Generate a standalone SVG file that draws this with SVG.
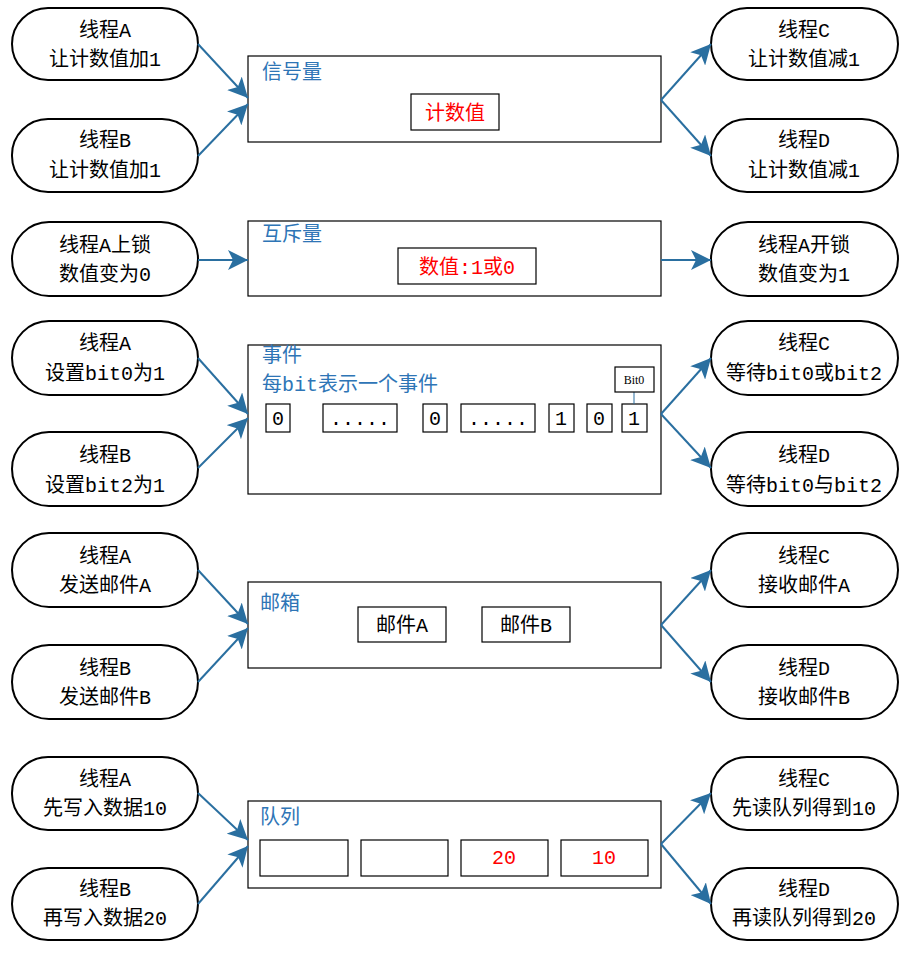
<svg xmlns="http://www.w3.org/2000/svg" width="910" height="973" viewBox="0 0 910 973">
<style>
.n{fill:#fff;stroke:#000;stroke-width:2}
.b{fill:#fff;stroke:#000;stroke-width:1.2}
.t{font-family:"Liberation Mono","Noto Sans CJK SC",monospace;font-size:20px;fill:#000;text-anchor:middle}
.bl{font-family:"Liberation Mono","Noto Sans CJK SC",monospace;font-size:20px;fill:#2e75b6}
.r{font-family:"Liberation Mono","Noto Sans CJK SC",monospace;font-size:20px;fill:#ff0000;text-anchor:middle}
.m{font-family:"Liberation Mono","Noto Sans CJK SC",monospace;font-size:20px;fill:#000;text-anchor:middle}
.c{stroke:#2a6fa0;stroke-width:2;fill:none;marker-end:url(#ah)}
</style>
<defs>
<marker id="ah" markerUnits="userSpaceOnUse" markerWidth="22" markerHeight="20" refX="20" refY="10" orient="auto">
<path d="M0,0 L20,10 L0,20 L5,10 Z" fill="#2a6fa0"/>
</marker>
</defs>
<rect width="910" height="973" fill="#fff"/>
<g id="lA1"><rect class="n" x="12" y="8" width="186" height="72" rx="36"/><text class="t" x="105" y="37">线程A</text><text class="t" x="105" y="66">让计数值加1</text></g>
<g id="lB1"><rect class="n" x="12" y="119" width="186" height="73" rx="36"/><text class="t" x="105" y="147">线程B</text><text class="t" x="105" y="177">让计数值加1</text></g>
<g id="rC1"><rect class="n" x="711" y="8" width="187" height="72" rx="36"/><text class="t" x="804" y="37">线程C</text><text class="t" x="804" y="66">让计数值减1</text></g>
<g id="rD1"><rect class="n" x="711" y="119" width="187" height="73" rx="36"/><text class="t" x="804" y="147">线程D</text><text class="t" x="804" y="177">让计数值减1</text></g>
<g id="sem"><rect class="b" x="248" y="56" width="413" height="86"/><text class="bl" x="262" y="79">信号量</text><rect class="b" x="411" y="94" width="88" height="36"/><text class="r" x="455" y="120">计数值</text></g>

<g id="lA2"><rect class="n" x="12" y="222" width="186" height="74" rx="37"/><text class="t" x="105" y="252">线程A上锁</text><text class="t" x="105" y="281">数值变为0</text></g>
<g id="rA2"><rect class="n" x="711" y="222" width="187" height="74" rx="37"/><text class="t" x="804" y="252">线程A开锁</text><text class="t" x="804" y="281">数值变为1</text></g>
<g id="mutex"><rect class="b" x="248" y="221" width="413" height="75"/><text class="bl" x="262" y="241">互斥量</text><rect class="b" x="398" y="248" width="138" height="36"/><text class="r" x="467" y="274">数值:1或0</text></g>

<g id="lA3"><rect class="n" x="12" y="321" width="186" height="74" rx="37"/><text class="t" x="105" y="350">线程A</text><text class="t" x="105" y="380">设置bit0为1</text></g>
<g id="lB3"><rect class="n" x="12" y="432" width="186" height="74" rx="37"/><text class="t" x="105" y="462">线程B</text><text class="t" x="105" y="492">设置bit2为1</text></g>
<g id="rC3"><rect class="n" x="711" y="321" width="187" height="74" rx="37"/><text class="t" x="804" y="350">线程C</text><text class="t" x="804" y="380">等待bit0或bit2</text></g>
<g id="rD3"><rect class="n" x="711" y="432" width="187" height="74" rx="37"/><text class="t" x="804" y="462">线程D</text><text class="t" x="804" y="492">等待bit0与bit2</text></g>
<g id="event"><rect class="b" x="248" y="345" width="413" height="149"/><text class="bl" x="262" y="362">事件</text><text class="bl" x="262" y="391">每bit表示一个事件</text>
<rect class="b" x="266" y="404" width="24" height="28"/><text class="m" x="278" y="425">0</text>
<rect class="b" x="323" y="404" width="74" height="28"/><text class="m" x="360" y="425">.....</text>
<rect class="b" x="423" y="404" width="24" height="28"/><text class="m" x="435" y="425">0</text>
<rect class="b" x="461" y="404" width="74" height="28"/><text class="m" x="498" y="425">.....</text>
<rect class="b" x="549" y="404" width="25" height="28"/><text class="m" x="561" y="425">1</text>
<rect class="b" x="587" y="404" width="25" height="28"/><text class="m" x="599" y="425">0</text>
<rect class="b" x="622" y="404" width="25" height="28"/><text class="m" x="634" y="425">1</text>
<line x1="634" y1="392" x2="634" y2="404" stroke="#2a6fa0" stroke-width="1"/>
<rect class="b" x="615" y="367" width="39" height="25"/><text x="634" y="384" font-family="Liberation Serif,serif" font-size="12" text-anchor="middle">Bit0</text></g>

<g id="lA4"><rect class="n" x="12" y="533" width="186" height="74" rx="37"/><text class="t" x="105" y="563">线程A</text><text class="t" x="105" y="592">发送邮件A</text></g>
<g id="lB4"><rect class="n" x="12" y="645" width="186" height="74" rx="37"/><text class="t" x="105" y="675">线程B</text><text class="t" x="105" y="704">发送邮件B</text></g>
<g id="rC4"><rect class="n" x="711" y="533" width="187" height="74" rx="37"/><text class="t" x="804" y="563">线程C</text><text class="t" x="804" y="592">接收邮件A</text></g>
<g id="rD4"><rect class="n" x="711" y="645" width="187" height="74" rx="37"/><text class="t" x="804" y="675">线程D</text><text class="t" x="804" y="704">接收邮件B</text></g>
<g id="mbox"><rect class="b" x="248" y="582" width="413" height="86"/><text class="bl" x="260" y="610">邮箱</text>
<rect class="b" x="358" y="607" width="88" height="35"/><text class="t" x="402" y="632">邮件A</text>
<rect class="b" x="482" y="607" width="88" height="35"/><text class="t" x="526" y="632">邮件B</text></g>

<g id="lA5"><rect class="n" x="12" y="757" width="186" height="73" rx="36"/><text class="t" x="105" y="786">线程A</text><text class="t" x="105" y="815">先写入数据10</text></g>
<g id="lB5"><rect class="n" x="12" y="868" width="186" height="72" rx="36"/><text class="t" x="105" y="896">线程B</text><text class="t" x="105" y="925">再写入数据20</text></g>
<g id="rC5"><rect class="n" x="711" y="757" width="187" height="73" rx="36"/><text class="t" x="804" y="786">线程C</text><text class="t" x="804" y="815">先读队列得到10</text></g>
<g id="rD5"><rect class="n" x="711" y="868" width="187" height="72" rx="36"/><text class="t" x="804" y="896">线程D</text><text class="t" x="804" y="925">再读队列得到20</text></g>
<g id="queue"><rect class="b" x="248" y="801" width="413" height="87"/><text class="bl" x="260" y="824">队列</text>
<rect class="b" x="260" y="840" width="88" height="36"/><rect class="b" x="361" y="840" width="87" height="36"/>
<rect class="b" x="461" y="840" width="87" height="36"/><text class="r" x="504" y="864">20</text>
<rect class="b" x="561" y="840" width="87" height="36"/><text class="r" x="604" y="864">10</text></g>

<g id="connectors">
<path class="c" d="M198,44 L248,98"/><path class="c" d="M198,156 L248,104"/>
<path class="c" d="M661,100 L711,44"/><path class="c" d="M661,100 L711,156"/>
<path class="c" d="M198,260 L248,260"/><path class="c" d="M661,260 L711,260"/>
<path class="c" d="M198,358 L248,414"/><path class="c" d="M198,468 L248,418"/>
<path class="c" d="M661,414 L711,358"/><path class="c" d="M661,414 L711,468"/>
<path class="c" d="M198,570 L248,624"/><path class="c" d="M198,682 L248,628"/>
<path class="c" d="M661,625 L711,570"/><path class="c" d="M661,625 L711,682"/>
<path class="c" d="M198,793 L248,840"/><path class="c" d="M198,904 L248,846"/>
<path class="c" d="M661,844 L711,793"/><path class="c" d="M661,844 L711,904"/>
</g>
</svg>
